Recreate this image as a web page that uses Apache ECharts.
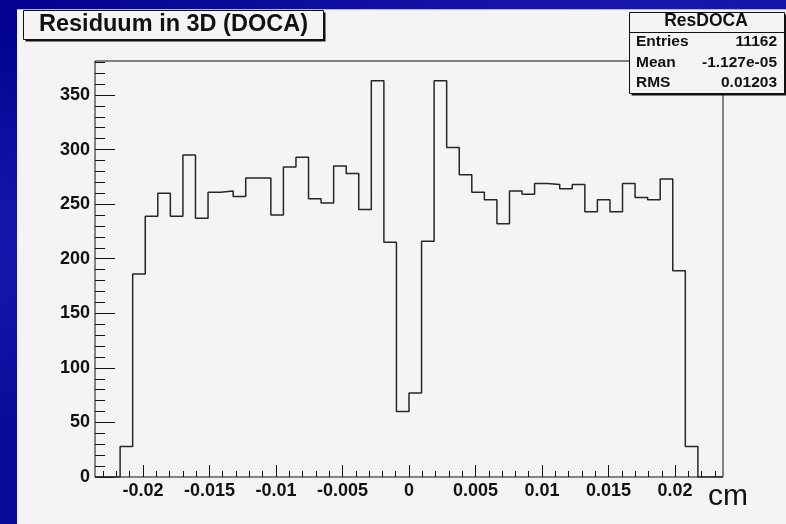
<!DOCTYPE html>
<html>
<head>
<meta charset="utf-8">
<title>Residuum in 3D (DOCA)</title>
<script src="https://cdn.jsdelivr.net/npm/echarts@6/dist/echarts.min.js"></script>
<style>
  html, body { margin: 0; padding: 0; width: 786px; height: 524px; overflow: hidden; }
  body {
    background:
      linear-gradient(160deg, rgba(40,40,190,0.0) 0%, rgba(40,40,200,0.45) 30%, rgba(0,0,120,0.0) 55%),
      linear-gradient(200deg, rgba(30,30,170,0.35) 10%, rgba(0,0,110,0.0) 40%, rgba(25,25,170,0.4) 70%),
      #00008c;
  }
  #pad { position: absolute; left: 17px; top: 9px; right: 0; bottom: 0; background: #f5f3f6;
         border-top: 1px solid #b8b8c8; }
  #chart { position: absolute; left: 0; top: 0; width: 786px; height: 524px; }
</style>
</head>
<body>
<div id="pad"></div>
<div id="chart"></div>
<script>
// Histogram range and per-bin counts (50 equal bins)
const xMin = -0.0236;
const xMax = 0.0236;
const counts = [
  0, 0, 28, 186, 239, 260, 239, 295, 237, 261,
  262, 257, 274, 274, 240, 284, 293, 255, 251, 285,
  278, 245, 363, 215, 60, 77, 216, 363, 302, 277,
  261, 254, 232, 262, 259, 269, 268, 264, 268, 243,
  254, 243, 269, 256, 254, 273, 189, 28, 0, 0
];

// Axis tick labels
const xTickLabels = [-0.02, -0.015, -0.01, -0.005, 0, 0.005, 0.01, 0.015, 0.02];
const yTickLabels = [0, 50, 100, 150, 200, 250, 300, 350];

// Statistics box contents
const statsTitle = 'ResDOCA';
const statsNames = ['Entries', 'Mean', 'RMS'];
const statsValues = ['11162', '-1.127e-05', '0.01203'];

const titleText = 'Residuum in 3D (DOCA)';
const xUnit = 'cm';

// ---- derived ----
const yMax = 1.05 * Math.max.apply(null, counts);
const binWidth = (xMax - xMin) / counts.length;
const stepPoints = counts.map((c, i) => [xMin + i * binWidth, c]);
stepPoints.push([xMax, counts[counts.length - 1]]);

const xMinor = [];
for (let k = -23; k <= 23; k++) {
  if (k % 5 !== 0) xMinor.push(Number((k * 0.001).toFixed(4)));
}
const yMinor = [];
for (let v = 10; v <= 380; v += 10) {
  if (v % 50 !== 0) yMinor.push(v);
}

const FONT = '"Liberation Sans", Arial, Helvetica, sans-serif';
const INK = '#111';
const PAD = '#f5f3f6';

const grid = { left: 95, top: 61, right: 63, bottom: 47, show: true,
  borderColor: INK, borderWidth: 1, backgroundColor: 'transparent' };

const chart = echarts.init(document.getElementById('chart'), null, { renderer: 'canvas' });

const statsGraphics = [];
const boxX = 629.5, boxY = 12.5, boxW = 155, boxH = 81;
statsGraphics.push({ type: 'rect', z: 100, shape: { x: boxX + 2, y: boxY + 2, width: boxW, height: boxH },
  style: { fill: INK } });
statsGraphics.push({ type: 'rect', z: 101, shape: { x: boxX, y: boxY, width: boxW, height: boxH },
  style: { fill: PAD, stroke: INK, lineWidth: 1 } });
statsGraphics.push({ type: 'line', z: 102, shape: { x1: boxX, y1: 32.5, x2: boxX + boxW, y2: 32.5 },
  style: { stroke: INK, lineWidth: 1 } });
statsGraphics.push({ type: 'text', z: 103, style: { x: 706, y: 21, text: statsTitle,
  font: 'bold 17.5px ' + FONT, fill: INK, textAlign: 'center', textVerticalAlign: 'middle' } });
const rowY = [41.5, 62.5, 83];
statsNames.forEach((name, i) => {
  statsGraphics.push({ type: 'text', z: 103, style: { x: 636, y: rowY[i], text: name,
    font: 'bold 15.5px ' + FONT, fill: INK, textAlign: 'left', textVerticalAlign: 'middle' } });
  statsGraphics.push({ type: 'text', z: 103, style: { x: 777, y: rowY[i], text: statsValues[i],
    font: 'bold 15.5px ' + FONT, fill: INK, textAlign: 'right', textVerticalAlign: 'middle' } });
});

const fmtX = v => String(Number(Number(v).toFixed(4)));

chart.setOption({
  backgroundColor: 'transparent',
  animation: false,
  grid: grid,
  xAxis: [
    {
      type: 'value', min: xMin, max: xMax, position: 'bottom',
      axisLine: { show: false, onZero: false },
      splitLine: { show: false },
      axisTick: { inside: true, length: 12, customValues: xTickLabels, lineStyle: { color: INK, width: 1 } },
      axisLabel: { customValues: xTickLabels, formatter: fmtX, margin: 5,
        fontFamily: FONT, fontWeight: 'bold', fontSize: 18, color: INK }
    },
    {
      type: 'value', min: xMin, max: xMax, position: 'bottom',
      axisLine: { show: false, onZero: false },
      splitLine: { show: false },
      axisTick: { inside: true, length: 6, customValues: xMinor, lineStyle: { color: INK, width: 1 } },
      axisLabel: { show: false }
    }
  ],
  yAxis: [
    {
      type: 'value', min: 0, max: yMax, position: 'left',
      axisLine: { show: false, onZero: false },
      splitLine: { show: false },
      axisTick: { inside: true, length: 20, customValues: yTickLabels, lineStyle: { color: INK, width: 1 } },
      axisLabel: { customValues: yTickLabels, margin: 5,
        fontFamily: FONT, fontWeight: 'bold', fontSize: 18, color: INK }
    },
    {
      type: 'value', min: 0, max: yMax, position: 'left',
      axisLine: { show: false, onZero: false },
      splitLine: { show: false },
      axisTick: { inside: true, length: 10, customValues: yMinor, lineStyle: { color: INK, width: 1 } },
      axisLabel: { show: false }
    }
  ],
  series: [
    {
      type: 'line',
      xAxisIndex: 0, yAxisIndex: 0,
      step: 'end',
      data: stepPoints,
      showSymbol: false,
      symbol: 'none',
      clip: true,
      lineStyle: { color: '#262626', width: 1.5 },
      z: 5
    }
  ],
  graphic: [
    { type: 'rect', z: 100, shape: { x: 25.5, y: 12.5, width: 300, height: 29 }, style: { fill: INK } },
    { type: 'rect', z: 101, shape: { x: 23.5, y: 10.5, width: 300, height: 29 },
      style: { fill: PAD, stroke: INK, lineWidth: 1 } },
    { type: 'text', z: 103, style: { x: 39, y: 25, text: titleText,
      font: 'bold 23.5px ' + FONT, fill: INK, textAlign: 'left', textVerticalAlign: 'middle' } },
    { type: 'text', z: 103, style: { x: 708, y: 497, text: xUnit,
      font: '30px ' + FONT, fill: INK, textAlign: 'left', textVerticalAlign: 'middle' } }
  ].concat(statsGraphics)
});
</script>
</body>
</html>
